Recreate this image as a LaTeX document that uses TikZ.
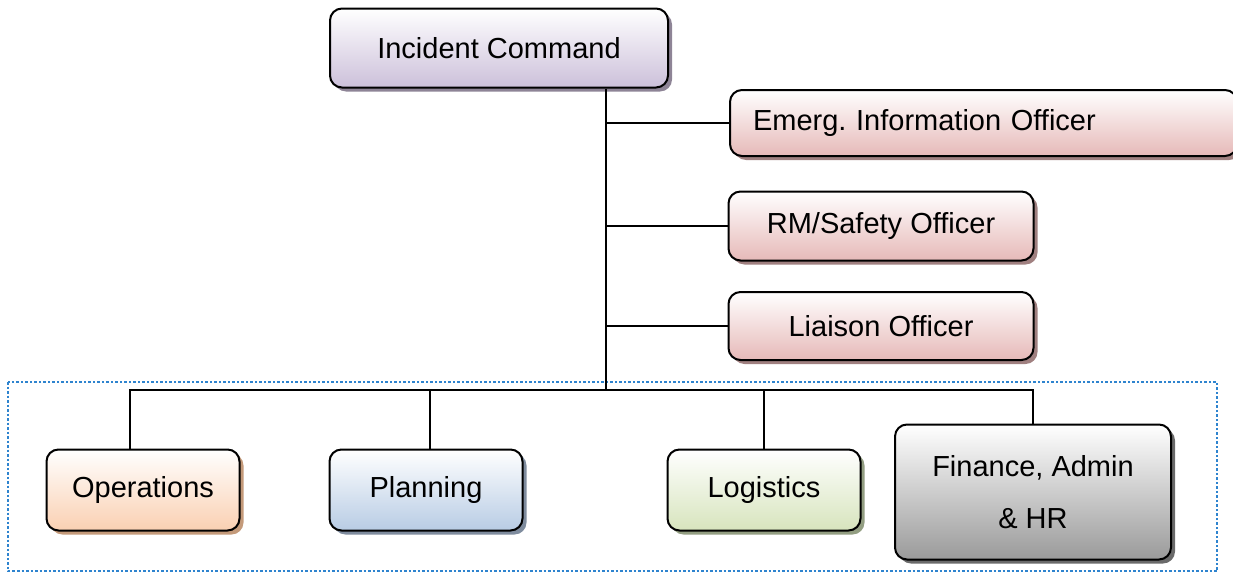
\documentclass[tikz,border=0pt]{standalone}
\usepackage{fontspec}
\setmainfont{Liberation Sans}
\usetikzlibrary{shadows}
\frenchspacing

\definecolor{cmdpurple}{HTML}{CCC0DA}
\definecolor{cmdshadow}{HTML}{8E8496}
\definecolor{offpink}{HTML}{E6B9B8}
\definecolor{offshadow}{HTML}{A08080}
\definecolor{opsorange}{HTML}{FAD0B2}
\definecolor{opsshadow}{HTML}{C49A7A}
\definecolor{planblue}{HTML}{B8CCE4}
\definecolor{planshadow}{HTML}{7F8C9E}
\definecolor{logigreen}{HTML}{D7E4BD}
\definecolor{logishadow}{HTML}{939E82}
\definecolor{fingray}{HTML}{9A9A9A}
\definecolor{finshadow}{HTML}{6A6A6A}
\definecolor{frameblue}{HTML}{2E84CF}

\begin{document}
\begin{tikzpicture}[
    x=1pt, y=-1pt,
    font=\fontsize{29}{35}\selectfont,
    box/.style={draw, line width=2pt, rounded corners=12pt, align=center,
                shading=axis, top color=white},
    cmdbox/.style={box, bottom color=cmdpurple,
                   drop shadow={shadow xshift=4pt, shadow yshift=-4pt, opacity=1, fill=cmdshadow}},
    officer/.style={box, bottom color=offpink,
                    drop shadow={shadow xshift=4pt, shadow yshift=-4pt, opacity=1, fill=offshadow}},
    section/.style={box, minimum width=193, minimum height=81},
    link/.style={line width=1.5pt}
]

\useasboundingbox (0,0) rectangle (1233,573);

\draw[frameblue, line width=2.5pt, dotted] (8,382) rectangle (1217,571);

\node[cmdbox, minimum width=338, minimum height=79] (ic) at (499,48) {Incident Command};

\node[officer, anchor=west, minimum width=507, minimum height=66,
      text width=461, inner xsep=23, align=left] (eio) at (729,123) {Emerg. Information Officer};
\node[officer, minimum width=305, minimum height=69] (rmso) at (881,226) {RM/Safety Officer};
\node[officer, minimum width=305, minimum height=68] (liaison) at (881,326) {Liaison Officer};

\node[section, bottom color=opsorange,
      drop shadow={shadow xshift=4pt, shadow yshift=-4pt, opacity=1, fill=opsshadow}]
      (ops) at (143,490) {Operations};
\node[section, bottom color=planblue,
      drop shadow={shadow xshift=4pt, shadow yshift=-4pt, opacity=1, fill=planshadow}]
      (plan) at (426,490) {Planning};
\node[section, bottom color=logigreen,
      drop shadow={shadow xshift=4pt, shadow yshift=-4pt, opacity=1, fill=logishadow}]
      (logi) at (764,490) {Logistics};
\node[box, bottom color=fingray, minimum width=276, minimum height=135,
      font=\fontsize{29}{52}\selectfont,
      drop shadow={shadow xshift=4pt, shadow yshift=-4pt, opacity=1, fill=finshadow}]
      (fin) at (1033,492) {Finance, Admin\\ \& HR};

\coordinate (hub) at (606,390);

\draw[link] (ic.south -| hub) -- (hub);
\draw[link] (hub |- eio.west) -- (eio.west);
\draw[link] (hub |- rmso.west) -- (rmso.west);
\draw[link] (hub |- liaison.west) -- (liaison.west);

\draw[link] ([xshift=-13pt]ops.north) -- ([xshift=-13pt]ops.north |- hub)
            -- (fin.north |- hub) -- (fin.north);
\draw[link] ([xshift=4pt]plan.north) -- ([xshift=4pt]plan.north |- hub);
\draw[link] (logi.north) -- (logi.north |- hub);

\end{tikzpicture}
\end{document}
